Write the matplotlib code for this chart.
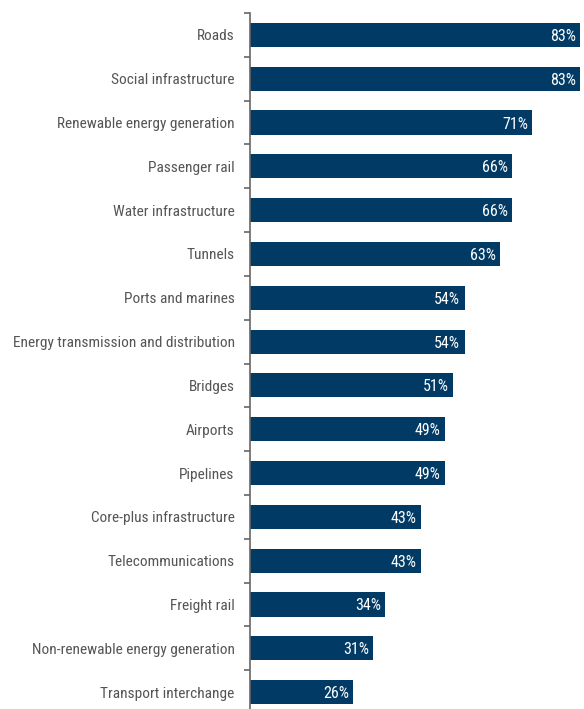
import matplotlib
matplotlib.use("Agg")
import matplotlib.pyplot as plt
from matplotlib import font_manager

categories = [
    "Roads",
    "Social infrastructure",
    "Renewable energy generation",
    "Passenger rail",
    "Water infrastructure",
    "Tunnels",
    "Ports and marines",
    "Energy transmission and distribution",
    "Bridges",
    "Airports",
    "Pipelines",
    "Core-plus infrastructure",
    "Telecommunications",
    "Freight rail",
    "Non-renewable energy generation",
    "Transport interchange",
]
values = [83, 83, 71, 66, 66, 63, 54, 54, 51, 49, 49, 43, 43, 34, 31, 26]

installed = {f.name for f in font_manager.fontManager.ttflist}
family = "DejaVu Sans"
for cand in ["Roboto Condensed", "Archivo Narrow", "Barlow Semi Condensed", "Asap Condensed"]:
    if cand in installed:
        family = cand
        break
plt.rcParams["font.family"] = [family, "DejaVu Sans"]

W, H = 584, 709
fig = plt.figure(figsize=(W / 100, H / 100), dpi=100)
ax = fig.add_axes([250 / W, -5 / H, 330 / W, (714 - 13) / H])

bar_color = "#013a64"
n = len(categories)
ypos = list(range(n))
ax.barh(ypos, values, height=0.55, color=bar_color)
ax.set_xlim(0, 83)
ax.set_ylim(n - 0.5, -0.5)

for y, v in zip(ypos, values):
    ax.text(v - 1.1, y, f"{v}%", ha="right", va="center_baseline",
            color="white", fontsize=11.5)

ax.set_yticks([i - 0.5 for i in range(n)])
ax.set_yticklabels([])
ax.set_yticks(ypos, minor=True)
ax.set_yticklabels(categories, minor=True, fontsize=11.05, color="#555555")
ax.tick_params(axis="y", which="minor", length=0, pad=11)
ax.tick_params(axis="y", which="major", length=4, width=1.2, color="#666666")
ax.set_xticks([])

for s in ["top", "right", "bottom"]:
    ax.spines[s].set_visible(False)
ax.spines["left"].set_color("#666666")
ax.spines["left"].set_linewidth(1.2)

fig.savefig("out.png", dpi=100)
